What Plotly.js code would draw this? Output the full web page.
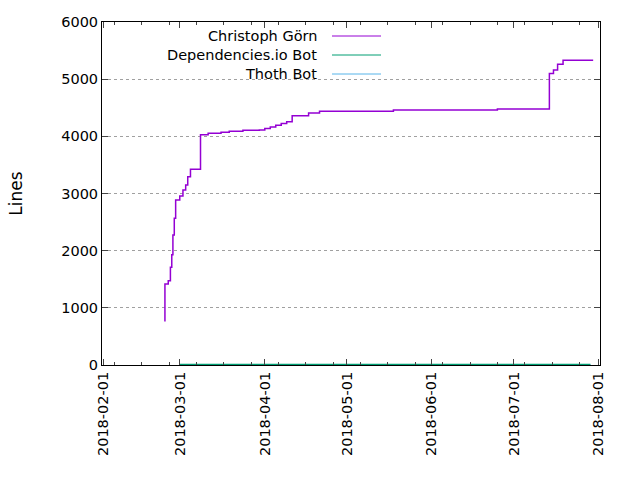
<!DOCTYPE html>
<html><head><meta charset="utf-8">
<script src="https://cdn.plot.ly/plotly-3.0.1.min.js"></script>
<style>body{margin:0}#c{width:640px;height:480px}</style></head>
<body><div id="c"></div>
<script>
const gornDates = ['2018-02-23 12:00','2018-02-23 12:00','2018-02-24 17:00','2018-02-25 12:00','2018-02-26 00:00','2018-02-26 10:00','2018-02-26 22:00','2018-02-27 10:00','2018-02-28 22:00','2018-03-02 02:00','2018-03-03 02:00','2018-03-03 20:00','2018-03-04 20:00','2018-03-08 12:00','2018-03-11 07:00','2018-03-16 00:00','2018-03-19 00:00','2018-03-24 00:00','2018-03-30 00:00','2018-04-01 00:00','2018-04-03 00:00','2018-04-05 00:00','2018-04-07 00:00','2018-04-09 00:00','2018-04-11 00:00','2018-04-17 00:00','2018-04-21 00:00','2018-05-18 00:00','2018-06-25 00:00','2018-07-14 00:00','2018-07-15 12:00','2018-07-17 00:00','2018-07-19 00:00','2018-07-30 00:00'];
const gornLines = [760,1417,1475,1709,1930,2274,2566,2886,2956,3061,3148,3294,3423,4029,4053,4070,4087,4105,4111,4135,4165,4195,4225,4255,4360,4410,4440,4460,4480,5100,5160,5260,5330,5330];
const depDates = ['2018-02-28 20:00','2018-07-29 00:00'];
const depLines = [10,10];
const thothDates = ['2018-02-28 20:00','2018-07-29 00:00'];
const thothLines = [0,0];
const names = ['Christoph Görn','Dependencies.io Bot','Thoth Bot'];
const colors = ['#9400d3','#009e73','#56b4e9'];

const traces = [
 {x:thothDates,y:thothLines,name:names[2]},
 {x:depDates,y:depLines,name:names[1]},
 {x:gornDates,y:gornLines,name:names[0]}
].map((t,i)=>Object.assign(t,{type:'scatter',mode:'lines',line:{shape:'hv',width:1.5,color:colors[2-i]},showlegend:false}));

const L=102,R=600,T=22,B=365;
const px=v=>(v-L)/(R-L), py=v=>(B-v)/(B-T);
const shapes=[], annotations=[];
names.forEach((n,i)=>{
  const yy=36+19*i;
  shapes.push({type:'line',xref:'paper',yref:'paper',x0:px(332),x1:px(381),y0:py(yy),y1:py(yy),line:{color:colors[i],width:1}});
  annotations.push({xref:'paper',yref:'paper',x:px(319),y:py(yy),xanchor:'right',yanchor:'middle',text:n,showarrow:false,font:{size:14.5,color:'#000'}});
});

Plotly.newPlot('c',traces,{
 width:640,height:480,margin:{l:L,r:640-R,t:T,b:480-B},
 paper_bgcolor:'#fff',plot_bgcolor:'#fff',
 font:{family:'DejaVu Sans, sans-serif',size:14.5,color:'#000'},
 xaxis:{type:'date',range:['2018-01-31 12:00','2018-08-01 12:00'],tickformat:'%Y-%m-%d',dtick:'M1',tick0:'2018-02-01',
   tickangle:-90,ticks:'inside',ticklen:6,showgrid:false,showline:true,mirror:'ticks',linecolor:'#000',linewidth:1,zeroline:false,
   minor:{dtick:864000000,ticks:'inside',ticklen:3,showgrid:false}},
 yaxis:{range:[0,6000],dtick:1000,ticks:'inside',ticklen:6,showline:true,mirror:'ticks',linecolor:'#000',zeroline:false,
   gridcolor:'#a0a0a0',griddash:'dot',gridwidth:1,title:{text:'Lines',standoff:34}},
 shapes:shapes,annotations:annotations
},{staticPlot:true});
</script></body></html>
